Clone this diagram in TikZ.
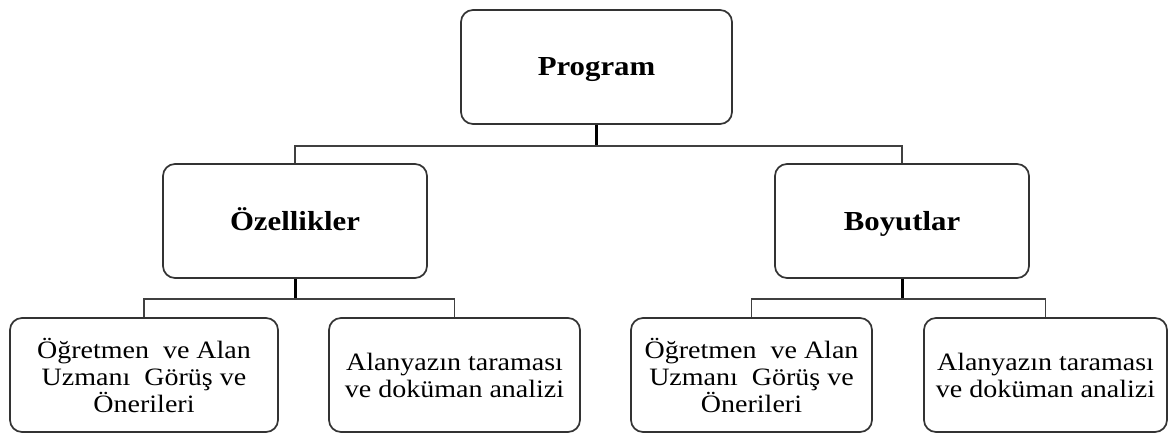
\documentclass[tikz,border=0pt]{standalone}
\usepackage{fontspec}
\setmainfont{Liberation Serif}[FakeStretch=1.12]
\begin{document}
\begin{tikzpicture}[x=1pt,y=-1pt,
  box/.style={draw=black!80, line width=1.7pt, rounded corners=12pt,
    minimum height=114pt, inner sep=0pt, align=center, fill=white},
  title/.style={box, font=\fontsize{27.5}{30}\selectfont\bfseries,
    text height=18pt, text depth=0pt},
  leaf/.style={box, font=\fontsize{25}{27}\selectfont},
  link/.style={line width=1.6pt, black!75},
  stem/.style={line width=3pt, black}]
\useasboundingbox (0,0) rectangle (1168,433);

% top level
\node[title, minimum width=271pt] (prog) at (596.5,67) {Program};

% second level
\node[title, minimum width=264pt] (ozel) at (295,221) {Özellikler};
\node[title, minimum width=254pt] (boy)  at (902,221) {Boyutlar};

% leaves
\node[leaf, minimum width=268pt] (b1) at (144,375) {Öğretmen\ \ ve Alan\\Uzmanı\ \ Görüş ve\\Önerileri};
\node[leaf, minimum width=251pt] (b2) at (454.5,375) {Alanyazın taraması\\ve doküman analizi};
\node[leaf, minimum width=241pt] (b3) at (751.5,375) {Öğretmen\ \ ve Alan\\Uzmanı\ \ Görüş ve\\Önerileri};
\node[leaf, minimum width=243pt] (b4) at (1045.5,375) {Alanyazın taraması\\ve doküman analizi};

% connectors
\draw[stem] (prog.south) -- ++(0,21) coordinate (j0);
\draw[link] (ozel.north) -- (ozel.north |- j0) -- (boy.north |- j0) -- (boy.north);

\draw[stem] (ozel.south) -- ++(0,20) coordinate (j1);
\draw[link] (b1.north) -- (b1.north |- j1) -- (b2.north |- j1) -- (b2.north);

\draw[stem] (boy.south) -- ++(0,20) coordinate (j2);
\draw[link] (b3.north) -- (b3.north |- j2) -- (b4.north |- j2) -- (b4.north);
\end{tikzpicture}
\end{document}
